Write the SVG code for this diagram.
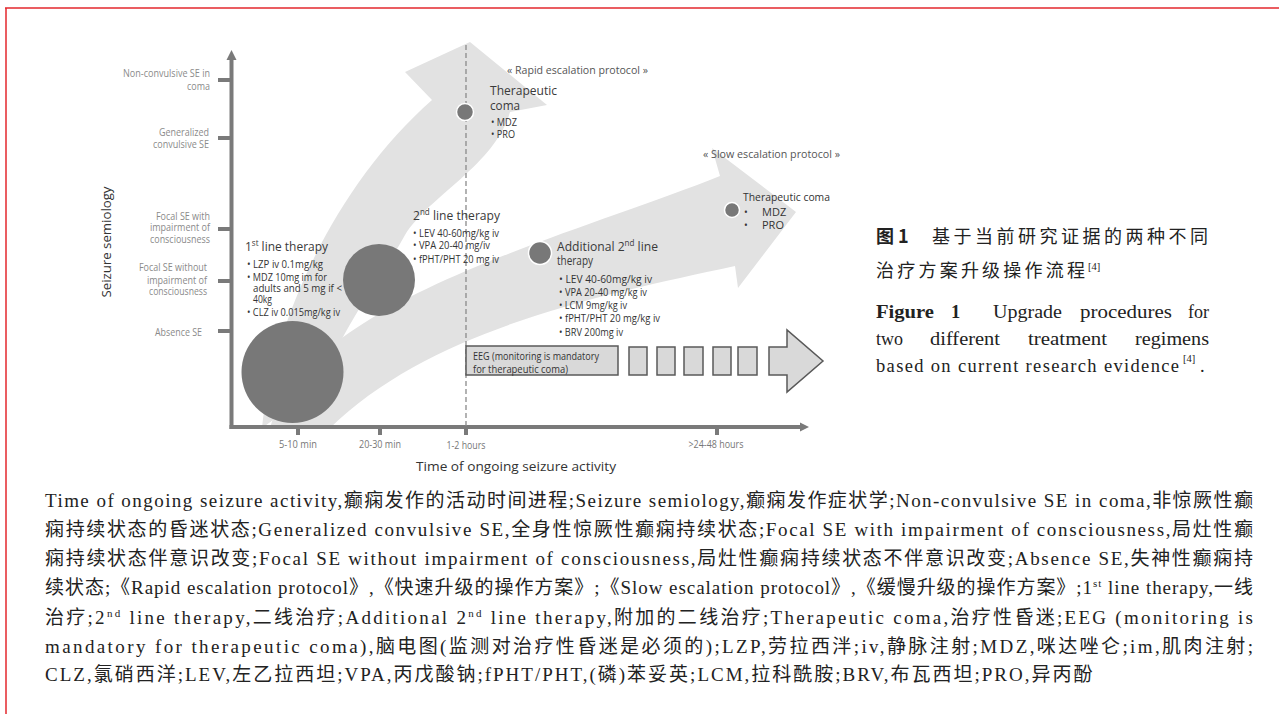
<svg xmlns="http://www.w3.org/2000/svg" width="1279" height="714" viewBox="0 0 1279 714">
<defs>
<style>
.ax{font-family:"Open Sans","Liberation Sans",sans-serif;font-size:10px;fill:#8a8a8a}
.tk{font-family:"Open Sans","Liberation Sans",sans-serif;font-size:10px;fill:#777}
.hd{font-family:"Open Sans","Liberation Sans",sans-serif;font-size:13.5px;fill:#3a3a3a}
.bl{font-family:"Open Sans","Liberation Sans",sans-serif;font-size:10px;fill:#333}
.pl{font-family:"Open Sans","Liberation Sans",sans-serif;font-size:10px;fill:#555}
.tt{font-family:"Open Sans","Liberation Sans",sans-serif;font-size:13px;fill:#333}
.cn{font-family:"Noto Sans CJK SC",sans-serif;font-size:18px;fill:#222}
.en{font-family:"Liberation Serif","Noto Sans CJK SC",serif;font-size:18.5px;fill:#222}
.sup{font-family:"Liberation Serif",serif;font-size:10.5px;fill:#222}
.cap{font-family:"Liberation Serif","Noto Sans CJK SC",serif;font-size:19px;fill:#222}
.band{fill:#e2e2e2}
.dot{fill:#787878;stroke:#fff;stroke-width:1.5}
.big{fill:#787878}
.bx{fill:#d9d9d9;stroke:#595959;stroke-width:1.5}
.axis{stroke:#7a7a7a;stroke-width:4;fill:none}
.tick{fill:#7a7a7a}
</style>
</defs>
<rect width="1279" height="714" fill="#fff"/>
<g id="frame" stroke="#e3272d" stroke-width="1.5" fill="none">
<line x1="5" y1="8" x2="1279" y2="8"/>
<line x1="6" y1="8" x2="6" y2="714"/>
</g>

<g id="bands">
<path class="band" d="M262,428 C272,330 330,190 432,100 L405,72 L470,42 L547,105 L510,112 C495,165 430,195 405,235 C380,280 340,330 322,385 Z"/>
<path class="band" d="M270,428 C310,300 560,240 720,176 L712,148 L796,212 L738,288 L735,266 C600,295 430,330 330,428 Z"/>
</g>

<g id="axes">
<line class="axis" x1="231.5" y1="429" x2="231.5" y2="58"/>
<polygon class="tick" points="226.5,60 236.5,60 231.5,50"/>
<line class="axis" x1="229.5" y1="427" x2="802" y2="427"/>
<polygon class="tick" points="800,422.5 800,431.5 809,427"/>
<rect class="tick" x="218" y="78" width="13" height="4"/>
<rect class="tick" x="218" y="136" width="13" height="4"/>
<rect class="tick" x="218" y="227" width="13" height="4"/>
<rect class="tick" x="218" y="279" width="13" height="4"/>
<rect class="tick" x="218" y="329" width="13" height="4"/>
<rect class="tick" x="296" y="428" width="4" height="7"/>
<rect class="tick" x="378" y="428" width="4" height="7"/>
<rect class="tick" x="464" y="428" width="4" height="7"/>
<rect class="tick" x="715" y="428" width="4" height="7"/>
<line x1="466" y1="45" x2="466" y2="426" stroke="#8a8a8a" stroke-width="1.3" stroke-dasharray="5,3"/>
</g>

<g id="ylabels" text-anchor="end">
<text class="ax" x="210" y="77" textLength="87" lengthAdjust="spacingAndGlyphs">Non-convulsive SE in</text>
<text class="ax" x="210" y="90" textLength="23" lengthAdjust="spacingAndGlyphs">coma</text>
<text class="ax" x="209" y="136" textLength="50" lengthAdjust="spacingAndGlyphs">Generalized</text>
<text class="ax" x="209" y="148" textLength="56" lengthAdjust="spacingAndGlyphs">convulsive SE</text>
<text class="ax" x="210" y="220" textLength="54" lengthAdjust="spacingAndGlyphs">Focal SE with</text>
<text class="ax" x="210" y="231" textLength="60" lengthAdjust="spacingAndGlyphs">impairment of</text>
<text class="ax" x="210" y="243" textLength="60" lengthAdjust="spacingAndGlyphs">consciousness</text>
<text class="ax" x="207" y="271" textLength="68" lengthAdjust="spacingAndGlyphs">Focal SE without</text>
<text class="ax" x="207" y="284" textLength="60" lengthAdjust="spacingAndGlyphs">impairment of</text>
<text class="ax" x="207" y="295" textLength="58" lengthAdjust="spacingAndGlyphs">consciousness</text>
<text class="ax" x="202" y="336" textLength="47" lengthAdjust="spacingAndGlyphs">Absence SE</text>
</g>
<text class="tt" transform="translate(111,242) rotate(-90)" text-anchor="middle" textLength="111" lengthAdjust="spacingAndGlyphs">Seizure semiology</text>

<g id="xlabels" text-anchor="middle">
<text class="tk" x="298" y="448" textLength="38" lengthAdjust="spacingAndGlyphs">5-10 min</text>
<text class="tk" x="380" y="448" textLength="42" lengthAdjust="spacingAndGlyphs">20-30 min</text>
<text class="tk" x="466" y="449" textLength="39" lengthAdjust="spacingAndGlyphs">1-2 hours</text>
<text class="tk" x="716" y="448" textLength="55" lengthAdjust="spacingAndGlyphs">&gt;24-48 hours</text>
</g>
<text class="tt" x="416" y="471" textLength="200" lengthAdjust="spacingAndGlyphs">Time of ongoing seizure activity</text>

<g id="node-first">
<circle class="big" cx="292.5" cy="372" r="51"/>
<text class="hd" x="245" y="251" textLength="83" lengthAdjust="spacingAndGlyphs">1<tspan font-size="9" dy="-5">st</tspan><tspan dy="5"> line therapy</tspan></text>
<text class="bl" x="247" y="268" textLength="76" lengthAdjust="spacingAndGlyphs">• LZP iv 0.1mg/kg</text>
<text class="bl" x="247" y="281" textLength="80" lengthAdjust="spacingAndGlyphs">• MDZ 10mg im for</text>
<text class="bl" x="253" y="292" textLength="89" lengthAdjust="spacingAndGlyphs">adults and 5 mg if &lt;</text>
<text class="bl" x="253" y="303" textLength="19" lengthAdjust="spacingAndGlyphs">40kg</text>
<text class="bl" x="247" y="316" textLength="93" lengthAdjust="spacingAndGlyphs">• CLZ iv 0.015mg/kg iv</text>
</g>

<g id="node-second">
<circle class="big" cx="379" cy="280" r="36"/>
<text class="hd" x="413" y="220" textLength="87" lengthAdjust="spacingAndGlyphs">2<tspan font-size="9" dy="-5">nd</tspan><tspan dy="5"> line therapy</tspan></text>
<text class="bl" x="413" y="237" textLength="86" lengthAdjust="spacingAndGlyphs">• LEV 40-60mg/kg iv</text>
<text class="bl" x="413" y="249" textLength="77" lengthAdjust="spacingAndGlyphs">• VPA 20-40 mg/iv</text>
<text class="bl" x="413" y="263" textLength="86" lengthAdjust="spacingAndGlyphs">• fPHT/PHT 20 mg iv</text>
</g>

<g id="node-rapid-coma">
<text class="pl" x="507" y="74" textLength="141" lengthAdjust="spacingAndGlyphs">« Rapid escalation protocol »</text>
<circle class="dot" cx="465" cy="112" r="8.5"/>
<text class="hd" x="490" y="95" textLength="67" lengthAdjust="spacingAndGlyphs">Therapeutic</text>
<text class="hd" x="490" y="110" textLength="30" lengthAdjust="spacingAndGlyphs">coma</text>
<text class="bl" x="491" y="126" textLength="26" lengthAdjust="spacingAndGlyphs">• MDZ</text>
<text class="bl" x="491" y="138" textLength="24" lengthAdjust="spacingAndGlyphs">• PRO</text>
</g>

<g id="node-additional">
<circle class="dot" cx="540" cy="253" r="11.5"/>
<text class="hd" x="557" y="251" textLength="101" lengthAdjust="spacingAndGlyphs">Additional 2<tspan font-size="9" dy="-5">nd</tspan><tspan dy="5"> line</tspan></text>
<text class="hd" x="557" y="265" textLength="36" lengthAdjust="spacingAndGlyphs">therapy</text>
<text class="bl" x="559" y="283" textLength="93" lengthAdjust="spacingAndGlyphs">• LEV 40-60mg/kg iv</text>
<text class="bl" x="559" y="296" textLength="88" lengthAdjust="spacingAndGlyphs">• VPA 20-40 mg/kg iv</text>
<text class="bl" x="559" y="309" textLength="68" lengthAdjust="spacingAndGlyphs">• LCM 9mg/kg iv</text>
<text class="bl" x="559" y="322" textLength="101" lengthAdjust="spacingAndGlyphs">• fPHT/PHT 20 mg/kg iv</text>
<text class="bl" x="559" y="336" textLength="64" lengthAdjust="spacingAndGlyphs">• BRV 200mg iv</text>
</g>

<g id="node-slow-coma">
<text class="pl" x="703" y="158" textLength="137" lengthAdjust="spacingAndGlyphs">« Slow escalation protocol »</text>
<circle class="dot" cx="732" cy="210" r="7.5"/>
<text class="bl" x="743" y="201" style="font-size:11.5px" textLength="87" lengthAdjust="spacingAndGlyphs">Therapeutic coma</text>
<text class="bl" x="744" y="216">•</text>
<text class="bl" x="762" y="216" style="font-size:11px">MDZ</text>
<text class="bl" x="744" y="229">•</text>
<text class="bl" x="762" y="229" style="font-size:11px">PRO</text>
</g>

<g id="node-eeg">
<rect class="bx" x="466" y="346" width="152" height="29"/>
<text class="bl" x="473" y="359.5" textLength="126" lengthAdjust="spacingAndGlyphs">EEG (monitoring is mandatory</text>
<text class="bl" x="473" y="373" textLength="95" lengthAdjust="spacingAndGlyphs">for therapeutic coma)</text>
<rect class="bx" x="629" y="347" width="18" height="28"/>
<rect class="bx" x="657" y="347" width="18" height="28"/>
<rect class="bx" x="684" y="347" width="19" height="28"/>
<rect class="bx" x="713" y="347" width="18" height="28"/>
<rect class="bx" x="738" y="347" width="19" height="28"/>
<polygon class="bx" points="769,347 787,347 787,330 823,361 787,392 787,375 769,375"/>
</g>

<g id="caption-right">
<text class="cn" x="876" y="243" font-weight="bold">图 1</text>
<text class="cn" x="932" y="243" textLength="276" lengthAdjust="spacing">基于当前研究证据的两种不同</text>
<text class="cn" x="876" y="277" textLength="209" lengthAdjust="spacing">治疗方案升级操作流程</text>
<text class="sup" x="1088" y="270">[4]</text>
<text class="en" x="876" y="318" font-weight="bold" textLength="58" lengthAdjust="spacingAndGlyphs">Figure</text>
<text class="en" x="951" y="318" font-weight="bold">1</text>
<text class="en" x="993" y="318" textLength="69" lengthAdjust="spacingAndGlyphs">Upgrade</text>
<text class="en" x="1080" y="318" textLength="92" lengthAdjust="spacingAndGlyphs">procedures</text>
<text class="en" x="1188" y="318" textLength="21" lengthAdjust="spacingAndGlyphs">for</text>
<text class="en" x="876" y="345" textLength="27" lengthAdjust="spacingAndGlyphs">two</text>
<text class="en" x="930" y="345" textLength="70" lengthAdjust="spacingAndGlyphs">different</text>
<text class="en" x="1028" y="345" textLength="79" lengthAdjust="spacingAndGlyphs">treatment</text>
<text class="en" x="1135" y="345" textLength="74" lengthAdjust="spacingAndGlyphs">regimens</text>
<text class="en" x="876" y="372" textLength="303" lengthAdjust="spacing">based on current research evidence</text>
<text class="sup" x="1183" y="362">[4]</text>
<text class="en" x="1200" y="372">.</text>
</g>

<g id="caption-bottom" class="cap">
<text x="45" y="507" textLength="1208" lengthAdjust="spacing">Time of ongoing seizure activity,癫痫发作的活动时间进程;Seizure semiology,癫痫发作症状学;Non-convulsive SE in coma,非惊厥性癫</text>
<text x="45" y="536" textLength="1208" lengthAdjust="spacing">痫持续状态的昏迷状态;Generalized convulsive SE,全身性惊厥性癫痫持续状态;Focal SE with impairment of consciousness,局灶性癫</text>
<text x="45" y="565" textLength="1208" lengthAdjust="spacing">痫持续状态伴意识改变;Focal SE without impairment of consciousness,局灶性癫痫持续状态不伴意识改变;Absence SE,失神性癫痫持</text>
<text x="45" y="594" textLength="1208" lengthAdjust="spacing">续状态;《Rapid escalation protocol》,《快速升级的操作方案》;《Slow escalation protocol》,《缓慢升级的操作方案》;1<tspan font-size="11" dy="-7">st</tspan><tspan dy="7"> line therapy,一线</tspan></text>
<text x="45" y="624" textLength="1208" lengthAdjust="spacing">治疗;2<tspan font-size="11" dy="-7">nd</tspan><tspan dy="7"> line therapy,二线治疗;Additional 2</tspan><tspan font-size="11" dy="-7">nd</tspan><tspan dy="7"> line therapy,附加的二线治疗;Therapeutic coma,治疗性昏迷;EEG (monitoring is</tspan></text>
<text x="45" y="653" textLength="1208" lengthAdjust="spacing">mandatory for therapeutic coma),脑电图(监测对治疗性昏迷是必须的);LZP,劳拉西泮;iv,静脉注射;MDZ,咪达唑仑;im,肌肉注射;</text>
<text x="45" y="681" letter-spacing="2">CLZ,氯硝西洋;LEV,左乙拉西坦;VPA,丙戊酸钠;fPHT/PHT,(磷)苯妥英;LCM,拉科酰胺;BRV,布瓦西坦;PRO,异丙酚</text>
</g>
</svg>
